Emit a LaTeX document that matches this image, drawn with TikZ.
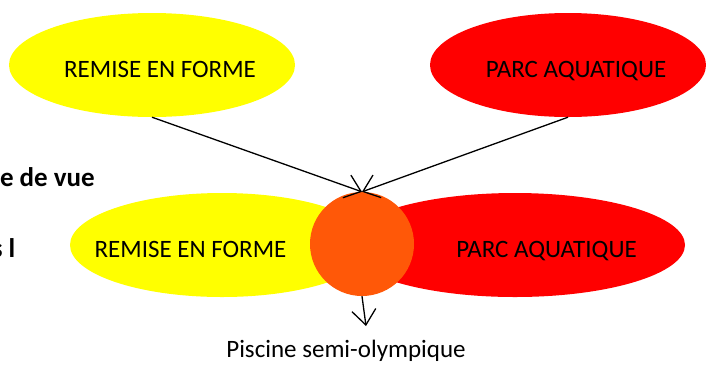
\documentclass[tikz,border=0pt]{standalone}
\usepackage{fontspec}
\setmainfont{Carlito}
\usetikzlibrary{shapes.geometric,arrows.meta}
\definecolor{myyellow}{RGB}{255,255,0}
\definecolor{myred}{RGB}{255,0,0}
\definecolor{myorange}{RGB}{255,88,8}
\tikzset{
  blob/.style={ellipse,inner sep=0pt,draw=none,minimum height=104pt},
  lbl/.style={anchor=base,inner sep=0pt,font=\fontsize{25}{30}\selectfont},
  side/.style={anchor=base east,inner sep=0pt,font=\fontsize{27}{32}\selectfont\bfseries},
  arr/.style={line width=1.3pt,-{Straight Barb[length=15pt,width=24pt,line width=1.3pt]}}
}
\begin{document}
\begin{tikzpicture}[x=1pt,y=-1pt]
\useasboundingbox (0,0) rectangle (706,365);
\clip (0,0) rectangle (706,365);
% top ellipses
\node[blob,fill=myyellow,minimum width=286pt] (ty) at (152,65) {};
\node[blob,fill=myred,minimum width=276pt] (tr) at (568,65) {};
\node[lbl] (tyl) at (160,77) {REMISE EN FORME};
\node[lbl] (trl) at (576,77) {PARC AQUATIQUE};
% bottom ellipses
\node[blob,fill=myyellow,minimum width=304pt] (by) at (222,245) {};
\node[blob,fill=myred,minimum width=340pt] (br) at (515,245) {};
\node[circle,fill=myorange,inner sep=0pt,minimum size=104pt] (c) at (362,244) {};
\node[lbl] (byl) at (190.5,257) {REMISE EN FORME};
\node[lbl] (brl) at (546.5,257) {PARC AQUATIQUE};
% cut-off side text
\node[side] (s1) at (95,186) {e de vue};
\node[side] (s2) at (15.5,257) {s l};
% arrows
\draw[arr] (ty.south) -- (c.north);
\draw[arr] (tr.south) -- (c.north);
\coordinate (d) at (366,326);
\draw[arr] (c.south) -- (d);
\node[lbl] (cap) at (346,357) {Piscine semi-olympique};
\end{tikzpicture}
\end{document}
